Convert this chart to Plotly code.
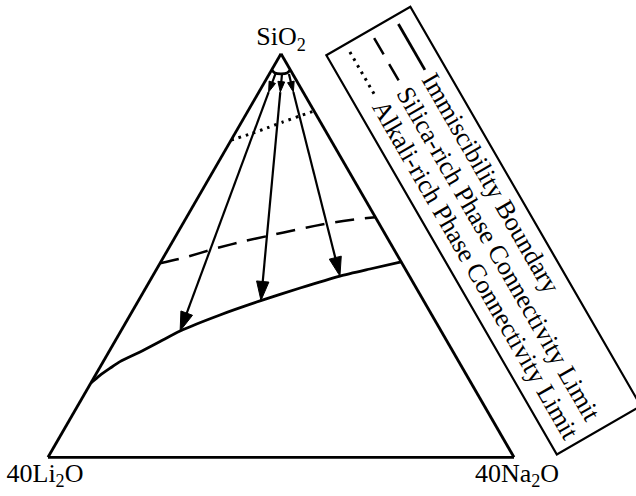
import math
import plotly.graph_objects as go

# Compositions in percent of each apex: SiO2 (top), 40Li2O (left), 40Na2O (right)

# Immiscibility boundary, alkali-rich limb
boundary_sio2 = [18.4, 20.3, 22.1, 23.7, 26.1, 28.7, 31.3, 35.3, 38.7, 41.9, 44.9, 46.7, 48.4]
boundary_li2o = [81.6, 78.7, 75.7, 72.7, 67.2, 61.6, 56.0, 45.5, 35.1, 24.9, 14.9, 7.6, 0.0]
boundary_na2o = [0.0, 1.0, 2.3, 3.6, 6.7, 9.7, 12.7, 19.3, 26.1, 33.1, 40.2, 45.8, 51.6]

# Immiscibility boundary, silica-rich limb (close to the SiO2 apex)
silica_limb_sio2 = [96.0, 95.2, 95.0, 95.2, 96.0]
silica_limb_li2o = [4.0, 3.7, 2.5, 1.1, 0.0]
silica_limb_na2o = [0.0, 1.1, 2.5, 3.7, 4.0]

# Silica-rich phase connectivity limit
silica_conn_sio2 = [48.1, 49.4, 51.9, 53.6, 54.8, 56.6, 58.1, 59.0, 59.5]
silica_conn_li2o = [51.9, 46.3, 37.6, 30.9, 25.6, 17.6, 10.5, 4.2, 0.0]
silica_conn_na2o = [0.0, 4.3, 10.5, 15.5, 19.6, 25.8, 31.5, 36.8, 40.5]

# Alkali-rich phase connectivity limit
alkali_conn_sio2 = [78.6, 80.1, 81.6, 83.1, 84.6, 85.8]
alkali_conn_li2o = [21.4, 16.6, 12.2, 8.0, 3.6, 0.0]
alkali_conn_na2o = [0.0, 3.3, 6.2, 8.9, 11.8, 14.2]

# Tie lines: start on the silica-rich limb, head, end on the alkali-rich limb
tie_sio2 = [[95.0, 90.5, 31.3], [94.8, 90.5, 38.9], [95.0, 90.5, 44.9]]
tie_li2o = [[3.7, 7.4, 56.0], [2.4, 4.9, 34.9], [0.8, 2.1, 14.9]]
tie_na2o = [[1.3, 2.1, 12.7], [2.8, 4.6, 26.3], [4.2, 7.4, 40.2]]

apex_labels = ["SiO<sub>2</sub>", "40Li<sub>2</sub>O", "40Na<sub>2</sub>O"]
legend_labels = [
    "Immiscibility Boundary",
    "Silica-rich Phase Connectivity Limit",
    "Alkali-rich Phase Connectivity Limit",
]

W, H = 636, 496
FONT = "Liberation Serif"
FS = 26
BLACK = "#000000"

fig = go.Figure()

line_styles = {
    "solid": dict(color=BLACK, width=2.8),
    "dash": dict(color=BLACK, width=2.5, dash="19px,11px"),
    "dot": dict(color=BLACK, width=3, dash="2.6px,5px"),
}

for a, b, c, style in [
    (boundary_sio2, boundary_li2o, boundary_na2o, "solid"),
    (silica_limb_sio2, silica_limb_li2o, silica_limb_na2o, "solid"),
    (silica_conn_sio2, silica_conn_li2o, silica_conn_na2o, "dash"),
    (alkali_conn_sio2, alkali_conn_li2o, alkali_conn_na2o, "dot"),
]:
    fig.add_trace(go.Scatterternary(
        a=a, b=b, c=c, mode="lines",
        line=dict(shape="spline", smoothing=0.6, **line_styles[style]),
        hoverinfo="skip", showlegend=False,
    ))

for a, b, c in zip(tie_sio2, tie_li2o, tie_na2o):
    fig.add_trace(go.Scatterternary(
        a=a, b=b, c=c, mode="lines+markers",
        line=dict(color=BLACK, width=2.2),
        marker=dict(symbol="arrow", angleref="previous", size=[0, 11, 20],
                    color=BLACK, opacity=1,
                    line=dict(width=1, color=BLACK)),
        hoverinfo="skip", showlegend=False,
    ))

axis_common = dict(
    showticklabels=False, ticks="", showgrid=False,
    linecolor=BLACK, linewidth=2.8, min=0,
)
title_font = dict(family=FONT, size=FS, color=BLACK)

fig.update_layout(
    width=W, height=H,
    margin=dict(l=0, r=0, t=0, b=0),
    paper_bgcolor="white",
    showlegend=False,
    hovermode=False,
    ternary=dict(
        sum=100,
        bgcolor="white",
        domain=dict(x=[48 / W, 514 / W], y=[1 - 458 / H, 1 - 53 / H]),
        aaxis=dict(title=dict(text=apex_labels[0], font=title_font), **axis_common),
        baxis=dict(title=dict(text=apex_labels[1], font=title_font), **axis_common),
        caxis=dict(title=dict(text=apex_labels[2], font=title_font), **axis_common),
    ),
)

# Legend: a frame turned 60 degrees clockwise, u along the text, v towards the glyph tops
ANG = math.radians(60)


def frame(u, v):
    x = u * math.cos(ANG) + v * math.sin(ANG)
    y = u * math.sin(ANG) - v * math.cos(ANG)
    return x / W, 1 - y / H


box_u = (211, 672)
box_v = (255, 352)
corners = [frame(box_u[0], box_v[0]), frame(box_u[0], box_v[1]),
           frame(box_u[1], box_v[1]), frame(box_u[1], box_v[0])]
path = "M " + " L ".join(f"{x:.5f},{y:.5f}" for x, y in corners) + " Z"
fig.add_shape(type="path", path=path, xref="paper", yref="paper",
              line=dict(color=BLACK, width=2.2))

entry_v = [333, 305, 277]
entry_style = ["solid", "dash", "dot"]
sample_u = (220, 273)
text_u = 279
text_len = [249, 381, 386]  # rendered length of each label at FS px

for label, v, style, length in zip(legend_labels, entry_v, entry_style, text_len):
    x0, y0 = frame(sample_u[0], v)
    x1, y1 = frame(sample_u[1], v)
    st = line_styles[style]
    fig.add_shape(type="line", x0=x0, y0=y0, x1=x1, y1=y1,
                  xref="paper", yref="paper",
                  line=dict(color=BLACK, width=st["width"],
                            dash=st.get("dash", "solid")))
    cx, cy = frame(text_u + length / 2, v)
    fig.add_annotation(
        x=cx, y=cy, xref="paper", yref="paper",
        text=label, showarrow=False, textangle=60,
        xanchor="center", yanchor="middle",
        font=dict(family=FONT, size=FS, color=BLACK),
    )

fig.write_html("out.html")
